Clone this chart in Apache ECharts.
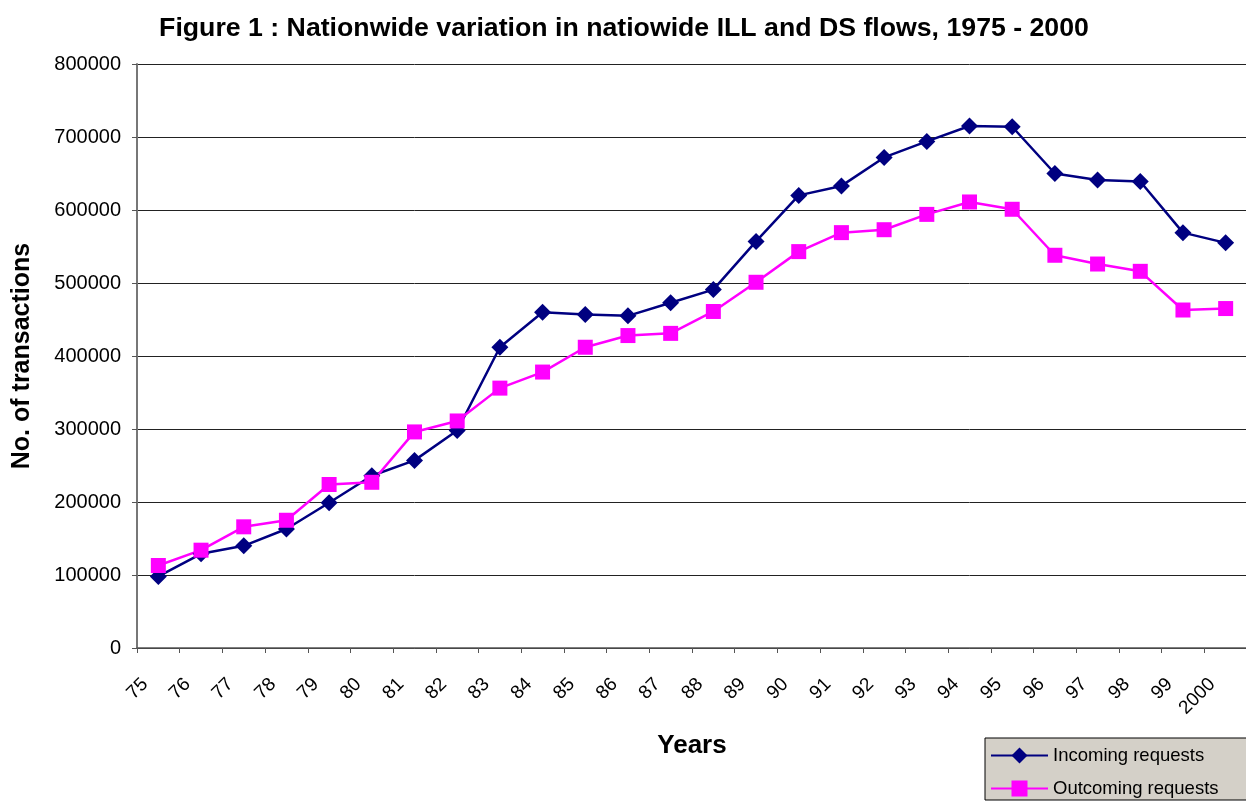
<!DOCTYPE html>
<html>
<head>
<meta charset="utf-8">
<script src="https://cdn.jsdelivr.net/npm/echarts@6/dist/echarts.min.js"></script>
<style>
html,body{margin:0;padding:0;background:#fff;}
#chart{width:1246px;height:803px;}
</style>
</head>
<body>
<div id="chart"></div>
<script>
const years = ['75','76','77','78','79','80','81','82','83','84','85','86','87','88','89','90','91','92','93','94','95','96','97','98','99','2000'];
const incoming = [98000,129000,140000,163000,199000,236000,257000,298000,412000,460000,457000,455000,473000,491000,557000,620000,633000,672000,694000,715000,714000,650000,641000,639000,569000,555000];
const outgoing = [113000,134000,166000,175000,224000,227000,296000,311000,356000,378000,412000,428000,431000,461000,501000,543000,569000,573000,594000,611000,601000,538000,526000,516000,463000,465000];
const yTicks = [0,100000,200000,300000,400000,500000,600000,700000,800000];

const chart = echarts.init(document.getElementById('chart'));
const font = 'Liberation Sans, Arial, sans-serif';
chart.setOption({
  animation: false,
  backgroundColor: '#ffffff',
  title: {
    text: 'Figure 1 : Nationwide variation in natiowide ILL and DS flows, 1975 - 2000',
    left: 619, top: 10, textAlign: 'center',
    textStyle: {fontFamily: font, fontSize: 26.7, fontWeight: 'bold', color: '#000'}
  },
  legend: {
    orient: 'vertical',
    left: 985, top: 738,
    padding: [8, 40, 2, 5],
    itemGap: 14,
    itemWidth: 57, itemHeight: 20,
    backgroundColor: '#d4d0c8',
    borderColor: '#000', borderWidth: 1, borderRadius: 0,
    textStyle: {fontFamily: font, fontSize: 18.5, color: '#000'},
    data: ['Incoming requests', 'Outcoming requests']
  },
  grid: {left: 137, top: 64, right: -1, bottom: 155, containLabel: false, outerBoundsMode: 'none'},
  xAxis: {
    type: 'category',
    data: years,
    boundaryGap: true,
    name: 'Years', nameLocation: 'middle', nameGap: 85,
    nameTextStyle: {fontFamily: font, fontSize: 26, fontWeight: 'bold', color: '#000'},
    axisLine: {lineStyle: {color: '#555', width: 1.5}},
    axisTick: {show: true, length: 5, lineStyle: {color: '#555'}},
    axisLabel: {rotate: 45, fontFamily: font, fontSize: 19, color: '#000', margin: 20,
      padding: [0, 19, 0, 0], interval: 0},
    splitLine: {show: false}
  },
  yAxis: {
    type: 'value',
    min: 0, max: 800000, interval: 100000,
    name: 'No. of transactions', nameLocation: 'middle', nameGap: 102, nameRotate: 90,
    nameTextStyle: {fontFamily: font, fontSize: 25, fontWeight: 'bold', color: '#000'},
    axisLine: {show: true, lineStyle: {color: '#777', width: 2}},
    axisTick: {show: true, length: 5, lineStyle: {color: '#555'}},
    axisLabel: {fontFamily: font, fontSize: 20, color: '#000', margin: 16,
      formatter: v => yTicks.includes(v) ? String(v) : ''},
    splitLine: {show: true, lineStyle: {color: '#222', width: 1}}
  },
  series: [
    {
      name: 'Incoming requests', type: 'line', data: incoming,
      symbol: 'diamond', symbolSize: 17,
      itemStyle: {color: '#000080'},
      lineStyle: {color: '#000080', width: 2.5}
    },
    {
      name: 'Outcoming requests', type: 'line', data: outgoing,
      symbol: 'rect', symbolSize: 15,
      itemStyle: {color: '#ff00ff'},
      lineStyle: {color: '#ff00ff', width: 2.5}
    }
  ]
});
</script>
</body>
</html>
